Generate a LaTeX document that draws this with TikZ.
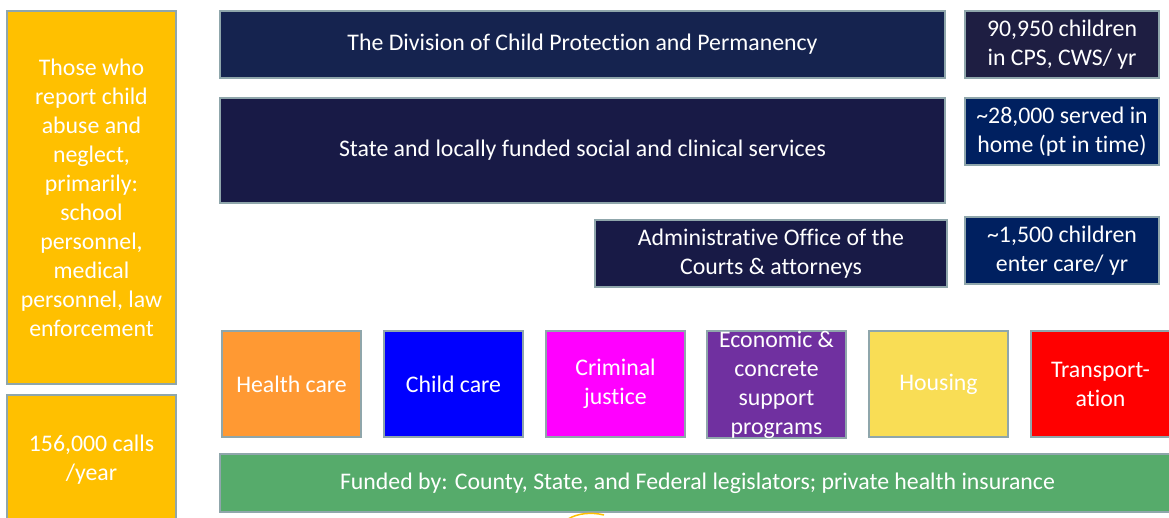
\documentclass[tikz,border=0pt]{standalone}
\usepackage{fontspec}
\setmainfont{Carlito}[Ligatures=NoCommon]
\definecolor{edge}{HTML}{8FA6AB}
\definecolor{gold}{HTML}{FFC000}
\definecolor{navyA}{HTML}{15234F}
\definecolor{navyB}{HTML}{181A46}
\definecolor{navyC}{HTML}{1E1E42}
\definecolor{navyD}{HTML}{002060}
\definecolor{orangeC}{HTML}{FF9933}
\definecolor{blueC}{HTML}{0000FF}
\definecolor{pinkC}{HTML}{FF00FF}
\definecolor{purpleC}{HTML}{7030A0}
\definecolor{yellowC}{HTML}{F9DD55}
\definecolor{redC}{HTML}{FF0000}
\definecolor{greenC}{HTML}{56AB6B}
\begin{document}
\begin{tikzpicture}
[
x=1pt, y=-1pt,
box/.style={rectangle, draw=edge, line width=2pt, anchor=north west, inner sep=0pt, text=white, align=center, font=\fontsize{23.8}{29}\selectfont},
wide/.style={box, minimum width=725pt},
stat/.style={box, minimum width=194pt, minimum height=67pt},
sector/.style={box, minimum width=139pt, minimum height=106pt}
]
\useasboundingbox (0,0) rectangle (1169,518);

%Nodes
\node[box, fill=gold, minimum width=169pt, minimum height=373pt]  (reporters) at (6,10)  {Those who\\report child\\abuse and\\neglect,\\primarily:\\school\\personnel,\\medical\\personnel, law\\enforcement};
\node[box, fill=gold, minimum width=169pt, minimum height=130pt]  (calls)     at (6,394) {156,000 calls\\/year};

\node[wide, fill=navyA, minimum height=67pt]   (dcpp)     at (219,10)  {The Division of Child Protection and Permanency};
\node[wide, fill=navyB, minimum height=105pt]  (services) at (219,97)  {State and locally funded social and clinical services};
\node[box, fill=navyB, minimum width=352pt, minimum height=67pt] (courts) at (594,219) {Administrative Office of the\\Courts \& attorneys};

\node[stat, fill=navyC]  (cps)    at (964,10)  {90,950 children\\in CPS, CWS/ yr};
\node[stat, fill=navyD]  (inhome) at (964,97)  {\textasciitilde28,000 served in\\home (pt in time)};
\node[stat, fill=navyD]  (care)   at (964,216) {\textasciitilde1,500 children\\enter care/ yr};

\node[sector, fill=orangeC]   (health)    at (221,330)  {Health care};
\node[sector, fill=blueC]     (childcare) at (383,330)  {Child care};
\node[sector, fill=pinkC]     (justice)   at (545,330)  {Criminal\\justice};
\node[sector, fill=purpleC]   (support)   at (706,330)  {Economic \&\\concrete\\support\\programs};
\node[sector, fill=yellowC]   (housing)   at (868,330)  {Housing};
\node[sector, fill=redC]      (transport) at (1030,330) {Transport-\\ation};

\node[box, fill=greenC, minimum width=955pt, minimum height=58pt] (funding) at (219,453) {Funded by: County, State, and Federal legislators; private health insurance};

%Lines
\draw[gold, line width=1.5pt] (568,519) .. controls (578,513) and (592,512) .. (604,515);
\end{tikzpicture}
\end{document}
